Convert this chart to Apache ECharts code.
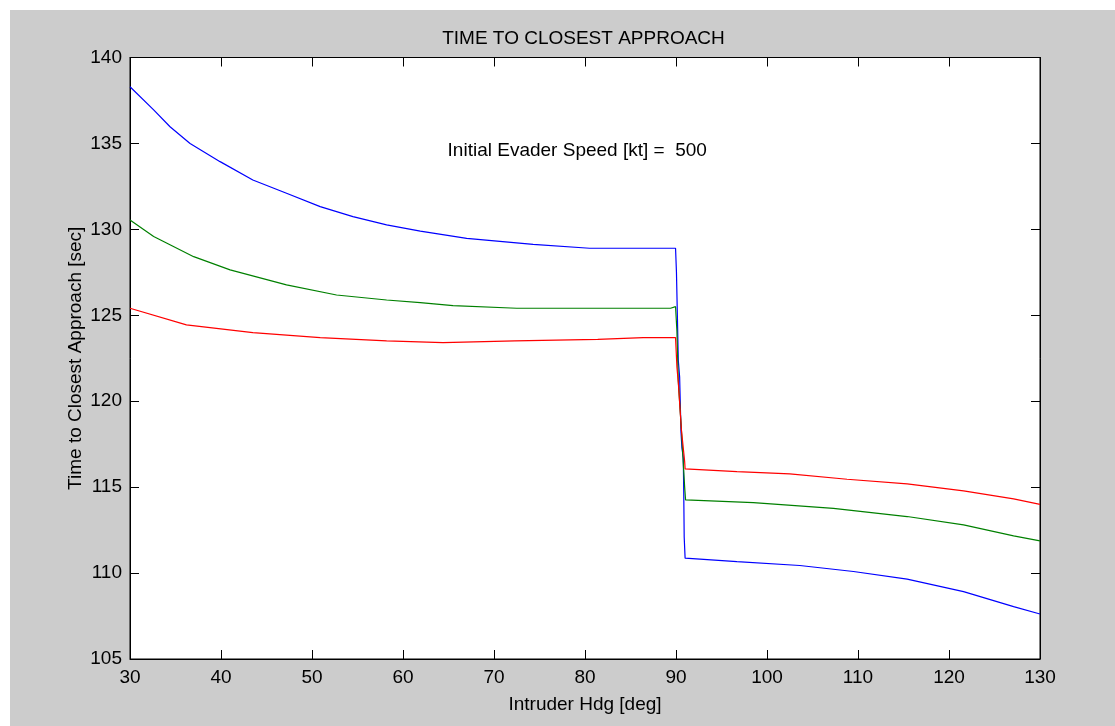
<!DOCTYPE html>
<html>
<head>
<meta charset="utf-8">
<script src="https://cdn.jsdelivr.net/npm/echarts@6/dist/echarts.min.js"></script>
<style>
html,body{margin:0;padding:0;background:#ffffff;width:1115px;height:726px;overflow:hidden;}
#c{position:absolute;left:10px;top:10px;width:1105px;height:716px;background:#cccccc;}
</style>
</head>
<body>
<div id="c"></div>
<script>
const titleText = 'TIME TO CLOSEST APPROACH';
const xName = 'Intruder Hdg [deg]';
const yName = 'Time to Closest Approach [sec]';
const noteText = 'Initial Evader Speed [kt] =  500';
const notePos = [64.9, 134.6];

const blueX = [30, 32.6, 34.4, 36.6, 39.9, 43.5, 47.2, 50.9, 54.5, 58.2, 61.9, 67.0, 74.3, 80.5, 89.95, 90.05, 90.15, 90.25, 90.4, 90.55, 90.65, 90.8, 90.85, 90.9, 91.0, 96.7, 103.6, 109.5, 115.4, 121.6, 127.1, 130];
const blueY = [138.3, 136.95, 135.97, 135.0, 133.94, 132.87, 132.1, 131.32, 130.74, 130.26, 129.9, 129.48, 129.13, 128.9, 128.9, 127.5, 125.0, 122.4, 121.4, 118.2, 117.3, 116.7, 114.7, 112.1, 110.87, 110.67, 110.44, 110.09, 109.65, 108.92, 108.05, 107.62];

const greenX = [30, 32.6, 37.0, 41.0, 47.2, 52.7, 58.2, 61.9, 65.5, 72.5, 89.4, 89.6, 89.95, 90.1, 90.25, 90.4, 90.55, 90.8, 90.95, 91.05, 98.5, 107.3, 115.4, 121.6, 127.1, 130];
const greenY = [130.55, 129.58, 128.41, 127.64, 126.77, 126.18, 125.89, 125.74, 125.56, 125.41, 125.41, 125.5, 125.5, 124.1, 121.2, 121.1, 118.7, 116.4, 115.0, 114.26, 114.1, 113.77, 113.29, 112.8, 112.16, 111.87];

const redX = [30, 36.2, 43.5, 50.9, 58.2, 64.4, 72.3, 81.4, 86.4, 89.95, 90.1, 90.25, 90.45, 90.6, 90.95, 91.0, 96.7, 102.5, 108.8, 115.4, 121.6, 127.1, 130];
const redY = [125.41, 124.44, 123.99, 123.7, 123.51, 123.41, 123.51, 123.6, 123.7, 123.7, 122.0, 121.1, 119.5, 118.3, 116.5, 116.06, 115.9, 115.77, 115.46, 115.19, 114.78, 114.32, 114.0];

const FONT = "'Liberation Sans', Arial, Helvetica, sans-serif";
const FS = 19;
const zip = (xs, ys) => xs.map((x, i) => [x, ys[i]]);

const chart = echarts.init(document.getElementById('c'), null, {renderer: 'canvas'});

const axisLine = {show: true, lineStyle: {color: '#000', width: 1}};
const tick = {show: true, inside: true, length: 9, lineStyle: {color: '#000', width: 1}};
const lbl = {color: '#000', fontFamily: FONT, fontSize: FS};

function lineSeries(xs, ys, color) {
  return {
    type: 'line', data: zip(xs, ys), xAxisIndex: 0, yAxisIndex: 0,
    showSymbol: false, symbol: 'none', smooth: false,
    lineStyle: {color: color, width: 1.2}, itemStyle: {color: color},
    silent: true, animation: false
  };
}

chart.setOption({
  animation: false,
  backgroundColor: '#cccccc',
  title: {
    text: titleText, left: 568.5, top: 14, textAlign: 'center',
    textStyle: {color: '#000', fontFamily: FONT, fontSize: FS, fontWeight: 'normal'}
  },
  grid: {left: 120, top: 47.5, right: 75, bottom: 67, show: true, backgroundColor: '#ffffff', borderColor: '#000', borderWidth: 1},
  xAxis: [
    {type: 'value', position: 'bottom', min: 30, max: 130, interval: 10,
     axisLine: axisLine, axisTick: tick, splitLine: {show: false},
     axisLabel: Object.assign({margin: 9}, lbl),
     name: xName, nameLocation: 'middle', nameGap: 36, nameMoveOverlap: false,
     nameTextStyle: {color: '#000', fontFamily: FONT, fontSize: FS}},
    {type: 'value', position: 'top', min: 30, max: 130, interval: 10,
     axisLine: axisLine, axisTick: tick, splitLine: {show: false}, axisLabel: {show: false}}
  ],
  yAxis: [
    {type: 'value', position: 'left', min: 105, max: 140, interval: 5,
     axisLine: axisLine, axisTick: tick, splitLine: {show: false},
     axisLabel: Object.assign({margin: 8}, lbl),
     name: yName, nameLocation: 'middle', nameGap: 45, nameRotate: 90, nameMoveOverlap: false,
     nameTextStyle: {color: '#000', fontFamily: FONT, fontSize: FS}},
    {type: 'value', position: 'right', min: 105, max: 140, interval: 5,
     axisLine: axisLine, axisTick: tick, splitLine: {show: false}, axisLabel: {show: false}}
  ],
  series: [
    lineSeries(blueX, blueY, '#0000ff'),
    lineSeries(greenX, greenY, '#008000'),
    lineSeries(redX, redY, '#ff0000')
  ]
});

const p = chart.convertToPixel({xAxisIndex: 0, yAxisIndex: 0}, notePos);
chart.setOption({
  graphic: [{
    type: 'text', x: p[0], y: p[1], silent: true,
    style: {text: noteText, fill: '#000', font: FS + 'px ' + FONT, textAlign: 'left', textVerticalAlign: 'middle'}
  }]
});
</script>
</body>
</html>
